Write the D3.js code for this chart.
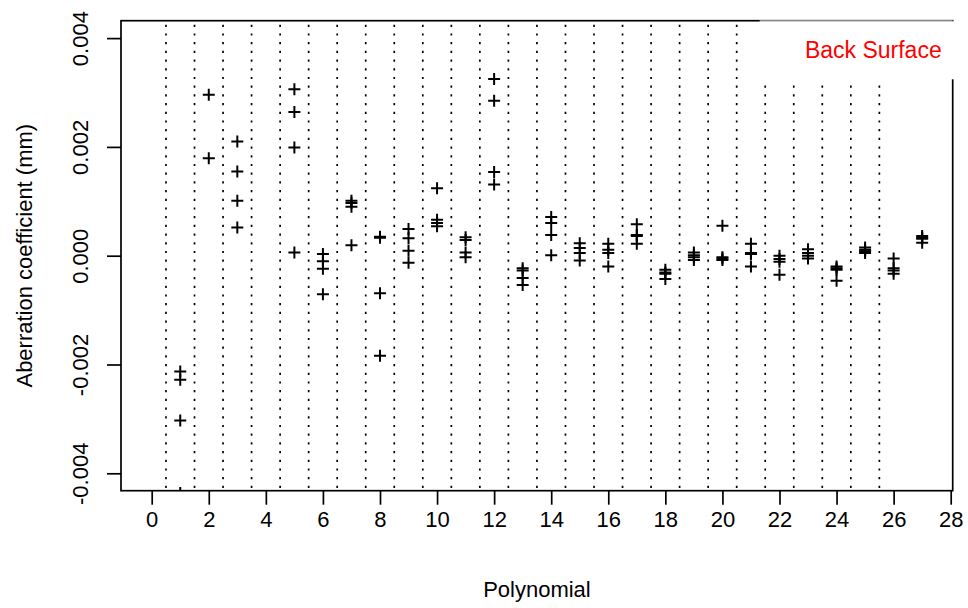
<!DOCTYPE html>
<meta charset="utf-8">
<style>
  body { margin: 0; background: #fff; }
  svg { display: block; font-family: "Liberation Sans", Arial, sans-serif; }
</style>
<svg width="968" height="608"></svg>

<script src="https://cdn.jsdelivr.net/npm/d3@7"></script>
<script>

// Zernike polynomial index, and the four measured coefficients (mm) for each one
var polynomials = [1, 2, 3, 4, 5, 6, 7, 8, 9, 10, 11, 12, 13, 14, 15, 16, 17, 18, 19, 20, 21, 22, 23, 24, 25, 26, 27];
var measure1 = [-0.00213, 0.00296, 0.00210, null, 0.00306, 0.00003, 0.00101, 0.00035, 0.00049, 0.00124, 0.00034, 0.00325, -0.00023, 0.00071,
                0.00023, 0.00022, 0.00058, -0.00026, 0.00006, 0.00055, 0.00022, 0.00000, 0.00012, -0.00020, 0.00015, -0.00005, 0.00036];
var measure2 = [-0.00228, 0.00179, 0.00155, null, 0.00264, -0.00010, 0.00097, 0.00033, 0.00032, 0.00066, 0.00029, 0.00285, -0.00027, 0.00060,
                0.00014, 0.00011, 0.00038, -0.00031, 0.00001, -0.00003, 0.00005, -0.00006, 0.00005, -0.00023, 0.00011, -0.00023, 0.00033];
var measure3 = [-0.00303, null, 0.00101, null, 0.00199, -0.00024, 0.00090, -0.00069, 0.00009, 0.00060, 0.00006, 0.00154, -0.00041, 0.00038,
                0.00005, 0.00005, 0.00036, -0.00033, -0.00003, -0.00005, 0.00003, -0.00011, 0.00000, -0.00026, 0.00008, -0.00027, 0.00031];
var measure4 = [-0.00436, null, 0.00052, null, 0.00006, -0.00071, 0.00019, -0.00184, -0.00013, 0.00054, -0.00003, 0.00131, -0.00054, 0.00001,
                -0.00009, -0.00020, 0.00022, -0.00043, -0.00008, -0.00008, -0.00020, -0.00035, -0.00005, -0.00046, 0.00005, -0.00033, 0.00024];
var xTicks = [0, 2, 4, 6, 8, 10, 12, 14, 16, 18, 20, 22, 24, 26, 28];
var yTicks = [-0.004, -0.002, 0, 0.002, 0.004];
var legendLabel = "Back Surface";

var svg = d3.select("svg"),
    margin = {top: 20.7, right: 15.3, bottom: 117.3, left: 121},
    width = +svg.attr("width") - margin.left - margin.right,
    height = +svg.attr("height") - margin.top - margin.bottom,
    g = svg.append("g").attr("transform", "translate(" + margin.left + "," + margin.top + ")");

var x = d3.scaleLinear().domain([-1.076, 28.07]).range([0, width]);
var y = d3.scaleLinear().domain([-0.00432, 0.00432]).range([height, 0]);

svg.append("defs").append("clipPath").attr("id", "plotclip")
  .append("rect").attr("width", width).attr("height", height);

var plot = g.append("g").attr("clip-path", "url(#plotclip)");

/*
 * Dotted separators between polynomials.
 */
var separators = polynomials.slice(0, polynomials.length - 1).map(function(p) { return p - 0.5; });
plot.selectAll(".sep")
  .data(separators)
  .enter().append("line")
    .attr("class", "sep")
    .attr("x1", function(d) { return x(d); })
    .attr("x2", function(d) { return x(d); })
    .attr("y1", 0)
    .attr("y2", height)
    .attr("stroke", "#000")
    .attr("stroke-width", 1.7)
    .attr("stroke-dasharray", "2.2,6.5")
    .attr("stroke-dashoffset", -4);

/*
 * Plus markers, one per measurement.
 */
var points = [];
[measure1, measure2, measure3, measure4].forEach(function(series) {
  series.forEach(function(v, i) {
    if (v !== null) points.push({p: polynomials[i], v: v});
  });
});

var arm = 6;
plot.selectAll(".pt")
  .data(points)
  .enter().append("path")
    .attr("class", "pt")
    .attr("d", function(d) {
      var cx = x(d.p), cy = y(d.v);
      return "M" + (cx - arm) + "," + cy + "H" + (cx + arm) + "M" + cx + "," + (cy - arm) + "V" + (cy + arm);
    })
    .attr("stroke", "#000")
    .attr("stroke-width", 2)
    .attr("fill", "none");

/*
 * Axes, R style: outward ticks, no domain line (box drawn separately).
 */
var xAxis = g.append("g")
    .attr("transform", "translate(0," + height + ")")
    .call(d3.axisBottom(x).tickValues(xTicks).tickSize(14).tickPadding(22).tickFormat(d3.format("d")));
xAxis.select(".domain").remove();
xAxis.selectAll("line").attr("stroke-width", 1.7);
xAxis.selectAll("text").attr("font-size", 22).attr("fill", "#000").attr("dy", 0);

var yAxis = g.append("g")
    .call(d3.axisLeft(y).tickValues(yTicks).tickSize(14).tickFormat(d3.format(".3f")));
yAxis.select(".domain").remove();
yAxis.selectAll("line").attr("stroke-width", 1.7);
yAxis.selectAll("text")
    .attr("font-size", 22)
    .attr("fill", "#000")
    .attr("text-anchor", "middle")
    .attr("transform", "rotate(-90)")
    .attr("x", 0)
    .attr("y", -33)
    .attr("dy", 0)
    .text(function(d) { return d3.format(".3f")(d).replace("\u2212", "-"); });

/*
 * Plot box.
 */
g.append("rect")
    .attr("width", width)
    .attr("height", height)
    .attr("fill", "none")
    .attr("stroke", "#000")
    .attr("stroke-width", 1.7);

/*
 * Legend in the top right corner, white background.
 */
var legendW = 193, legendH = 58;
g.append("rect")
    .attr("x", width - legendW)
    .attr("y", 0.6)
    .attr("width", legendW + 2)
    .attr("height", legendH)
    .attr("fill", "#fff");
g.append("line")
    .attr("x1", width - legendW).attr("x2", width)
    .attr("y1", 0).attr("y2", 0)
    .attr("stroke", "#aaa")
    .attr("stroke-width", 1);
g.append("text")
    .attr("x", width - 11)
    .attr("y", 37.6)
    .attr("text-anchor", "end")
    .attr("font-size", 23)
    .attr("fill", "#ff0000")
    .text(legendLabel);

/*
 * Axis titles.
 */
svg.append("text")
    .attr("x", margin.left + x(13.5))
    .attr("y", 597)
    .attr("text-anchor", "middle")
    .attr("font-size", 22)
    .text("Polynomial");

svg.append("text")
    .attr("text-anchor", "middle")
    .attr("transform", "translate(32," + (margin.top + height / 2) + ")rotate(-90)")
    .attr("font-size", 22)
    .attr("fill", "#000")
    .text("Aberration coefficient (mm)");

</script>
